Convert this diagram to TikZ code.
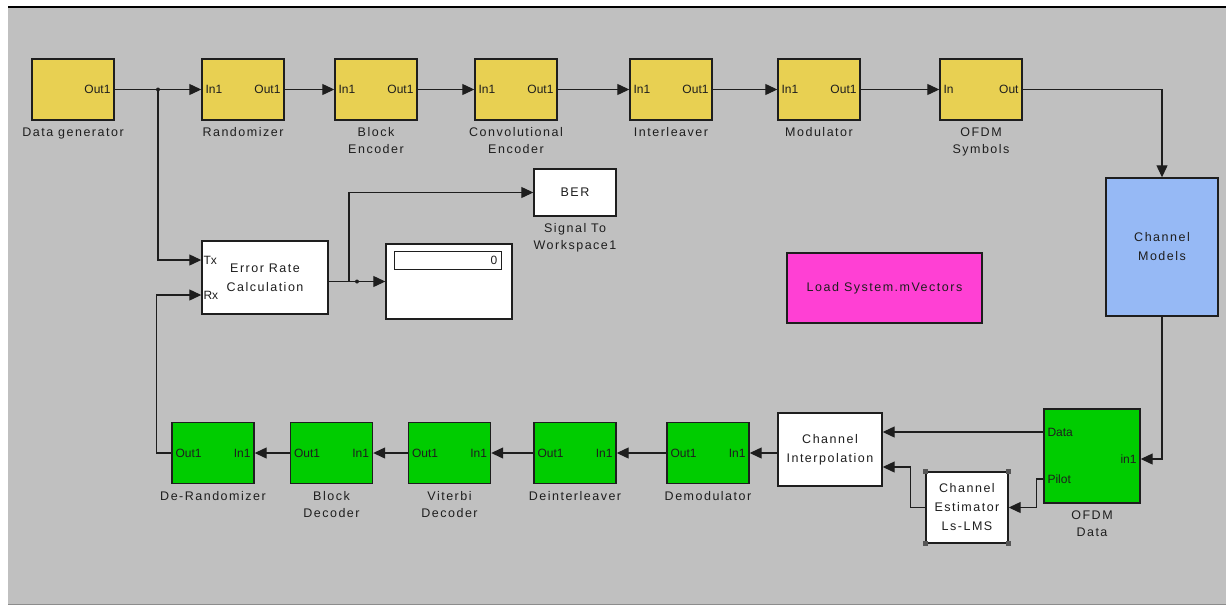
\documentclass[tikz,border=0pt]{standalone}
\usepackage{fontspec}
\setmainfont{Liberation Sans}
\newfontfamily\lblfont[LetterSpace=12]{Liberation Sans}
\usetikzlibrary{arrows.meta}
\definecolor{bgray}{RGB}{192,192,192}
\definecolor{yel}{RGB}{232,208,82}
\definecolor{grn}{RGB}{0,204,0}
\definecolor{blu}{RGB}{150,185,245}
\definecolor{mag}{RGB}{255,64,212}
\definecolor{ink}{RGB}{30,30,30}

\begin{document}
\begin{tikzpicture}[x=1pt,y=-1pt,
    blk/.style={draw=ink, line width=1.4pt, inner sep=0pt, minimum width=82pt, minimum height=61pt},
    yblk/.style={blk, fill=yel},
    gblk/.style={blk, fill=grn},
    wblk/.style={blk, fill=white},
    port/.style={font=\fontsize{12}{14}\selectfont, inner sep=4pt, text=ink},
    lbl/.style={font=\lblfont\fontsize{12.5}{17}\selectfont, align=center, inner sep=0pt, text=ink},
    txt/.style={font=\lblfont\fontsize{12.5}{19}\selectfont, align=center, text=ink},
    line/.style={draw=ink, line width=1.2pt},
    wire/.style={line, -{Triangle[length=12pt,width=11pt]}}]
    \useasboundingbox (0,0) rectangle (1226,606);
    % window
    \fill[white] (0,0) rectangle (1226,606);
    \fill[bgray] (8,8) rectangle (1226,604);
    \draw[black, line width=2pt] (8,7) -- (1226,7);
    \draw[black!45, line width=1.5pt] (8,604.5) -- (1226,604.5);

    % transmitter chain
    \foreach \n/\x/\i/\o/\t in {gen/73//Out1/Data generator, rand/243/In1/Out1/Randomizer,
        benc/376/In1/Out1/{Block\\Encoder}, cenc/516/In1/Out1/{Convolutional\\Encoder},
        intl/671/In1/Out1/Interleaver, mod/819/In1/Out1/Modulator, ofdms/981/In/Out/{OFDM\\Symbols}} {
        \node[yblk] (\n) at (\x,89.5) {};
        \node[port, anchor=west] (\n-i) at (\n.west) {\i};
        \node[port, anchor=east] (\n-o) at (\n.east) {\o};
        \node[lbl, anchor=north] (\n-l) at ([yshift=-7pt]\n.south) {\t};
    }
    \node[blk, fill=blu, txt, minimum width=112pt, minimum height=138pt] (chm) at (1162,247) {Channel\\Models};
    \node[blk, fill=mag, txt, minimum width=195pt, minimum height=70pt] (load) at (884.5,288) {Load System.mVectors};

    % error rate and sinks
    \node[wblk, txt, minimum width=126pt, minimum height=73pt] (err) at (265,277.5) {Error Rate\\Calculation};
    \coordinate (tx) at ([yshift=17.5pt]err.west);
    \coordinate (rx) at ([yshift=-17.5pt]err.west);
    \node[port, anchor=west, inner sep=2pt] (txl) at (tx) {Tx};
    \node[port, anchor=west, inner sep=2pt] (rxl) at (rx) {Rx};
    \node[wblk, txt, minimum height=47pt] (ber) at (575,192.5) {BER};
    \node[lbl, anchor=north] (ber-l) at ([yshift=-7pt]ber.south) {Signal To\\Workspace1};
    \node[wblk, minimum width=126pt, minimum height=75pt] (disp) at (449,281.5) {};
    \node[draw=ink, line width=1pt, fill=white, inner sep=0pt, minimum width=107pt, minimum height=18pt] (dfld) at (447.5,260) {};
    \node[port, anchor=east] (dval) at (dfld.east) {0};

    % receiver chain
    \foreach \n/\x/\t in {derand/213/De-Randomizer, bdec/331.5/{Block\\Decoder}, vdec/449.5/{Viterbi\\Decoder},
        dint/575/Deinterleaver, dmod/708/Demodulator} {
        \node[gblk] (\n) at (\x,453) {};
        \node[port, anchor=west] (\n-o) at (\n.west) {Out1};
        \node[port, anchor=east] (\n-i) at (\n.east) {In1};
        \node[lbl, anchor=north] (\n-l) at ([yshift=-7pt]\n.south) {\t};
    }
    \node[wblk, txt, minimum width=104pt, minimum height=73pt] (cint) at (830,449.5) {Channel\\Interpolation};
    \node[wblk, txt, minimum height=71pt] (cest) at (967,507.5) {Channel\\Estimator\\Ls-LMS};
    \foreach \c in {north west,north east,south west,south east}
        \fill[ink!75] ([shift={(-2.5,-2.5)}]cest.\c) rectangle ++(5,5);
    \node[gblk, minimum width=96pt, minimum height=94pt] (ofdmd) at (1092,456) {};
    \node[lbl, anchor=north] (ofdmd-l) at ([yshift=-7pt]ofdmd.south) {OFDM\\Data};
    \coordinate (ddata) at ([yshift=24pt]ofdmd.west);
    \coordinate (dpilot) at ([yshift=-23pt]ofdmd.west);
    \coordinate (din) at ([yshift=-3pt]ofdmd.east);
    \node[port, anchor=west] (ddata-l) at (ddata) {Data};
    \node[port, anchor=west] (dpilot-l) at (dpilot) {Pilot};
    \node[port, anchor=east] (din-l) at (din) {in1};

    % connections
    \coordinate (j1) at (158,89.5);
    \draw[line] (gen.east) -- (j1);
    \draw[wire] (j1) -- (rand.west);
    \foreach \a/\b in {rand/benc, benc/cenc, cenc/intl, intl/mod, mod/ofdms}
        \draw[wire] (\a.east) -- (\b.west);
    \draw[wire] (ofdms.east) -| (chm.north);
    \draw[wire] (j1) |- (tx);
    \fill[ink] (j1) circle (2pt);
    \draw[wire] (chm.south) |- (din);
    \draw[wire] (ddata) -- (ddata -| cint.east);
    \draw[wire] (dpilot) -- ++(-7,0) |- (cest.east);
    \draw[wire] (cest.west) -- ++(-15,0) |- ([yshift=-17.5pt]cint.east);
    \draw[wire] (cint.west |- dmod.east) -- (dmod.east);
    \foreach \a/\b in {dmod/dint, dint/vdec, vdec/bdec, bdec/derand}
        \draw[wire] (\a.west) -- (\b.east);
    \draw[wire] (derand.west) -- ++(-15,0) |- (rx);
    \draw[wire] (err.east |- disp.west) -- (disp.west);
    \coordinate (j2) at (357,281.5);
    \coordinate (b2) at (349,281.5);
    \fill[ink] (j2) circle (2pt);
    \draw[wire] (b2) |- (ber.west);
\end{tikzpicture}
\end{document}
